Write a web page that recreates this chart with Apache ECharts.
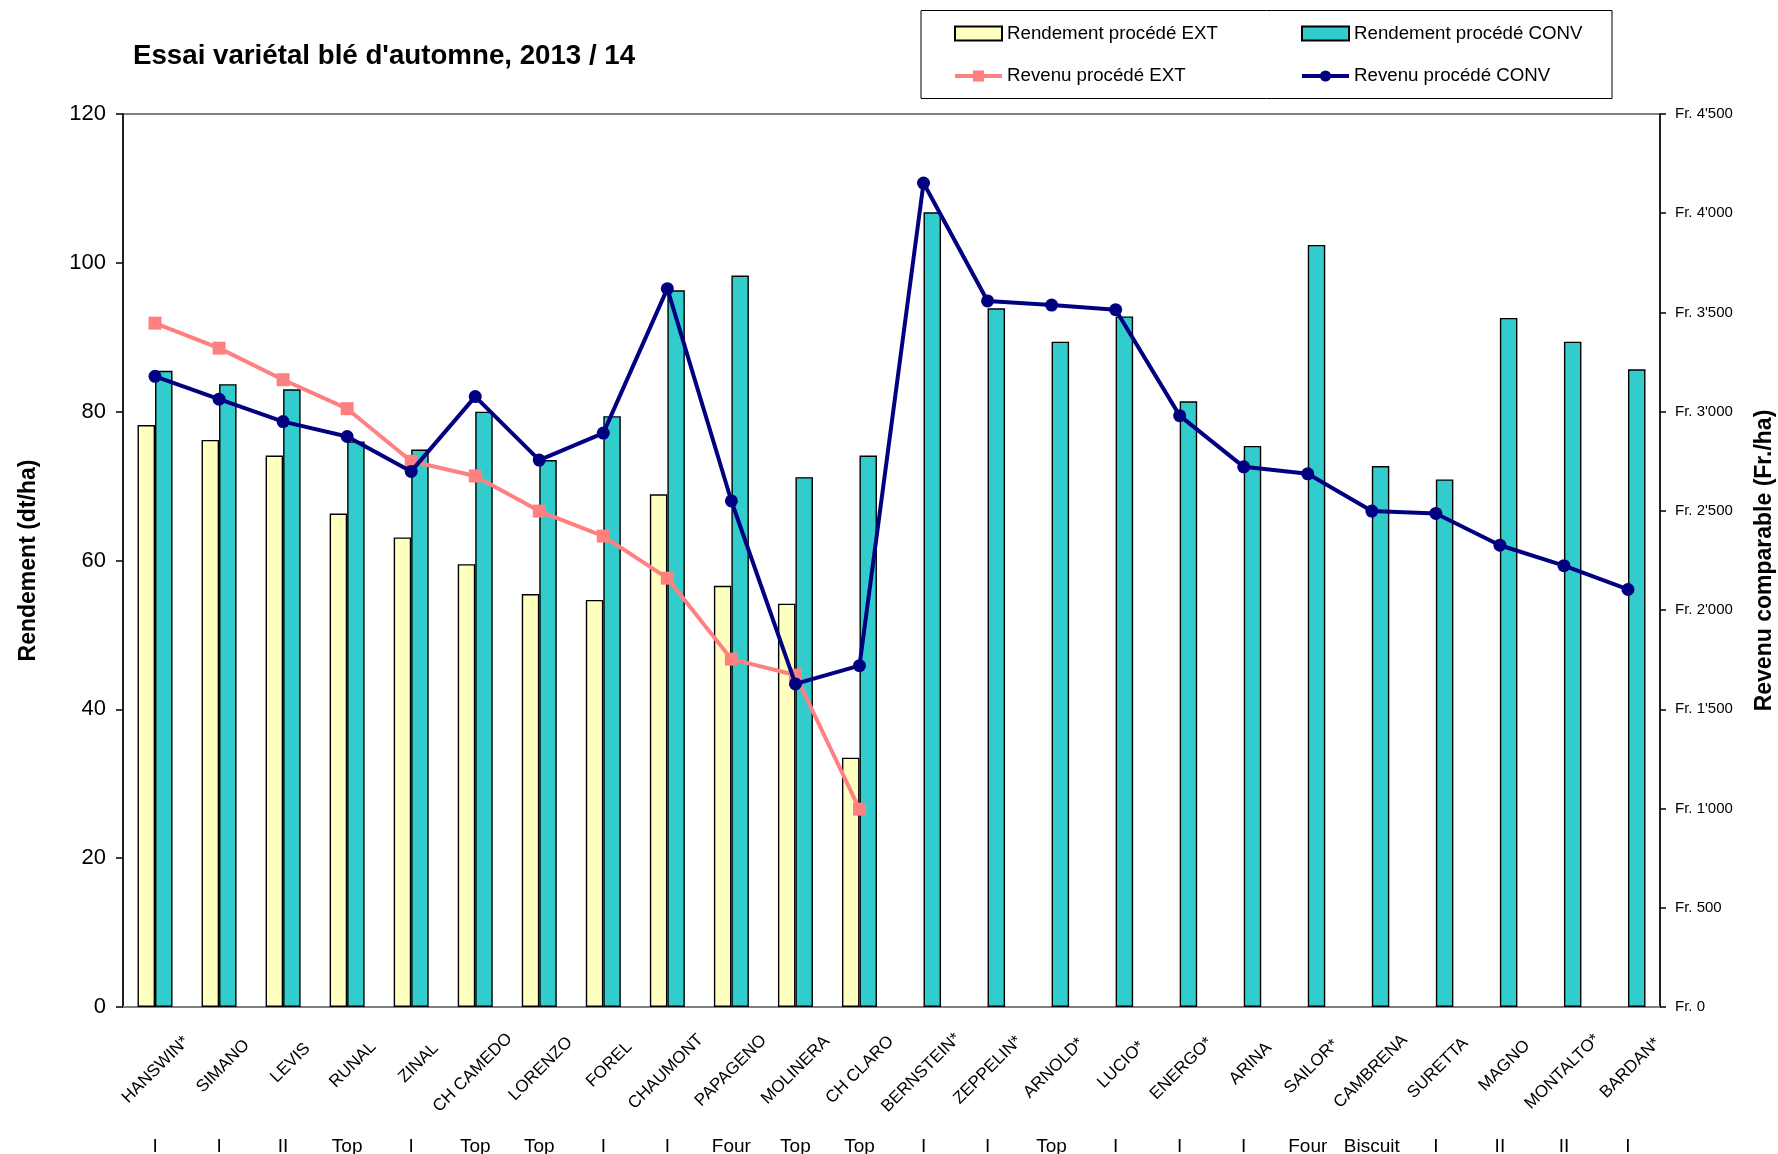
<!DOCTYPE html>
<html><head><meta charset="utf-8">
<script src="https://cdn.jsdelivr.net/npm/echarts@6/dist/echarts.min.js"></script>
<style>html,body{margin:0;padding:0;background:#fff}#c{width:1778px;height:1154px}</style>
</head><body><div id="c"></div>
<script>
const categories = ['HANSWIN*','SIMANO','LEVIS','RUNAL','ZINAL','CH CAMEDO','LORENZO','FOREL','CHAUMONT','PAPAGENO','MOLINERA','CH CLARO','BERNSTEIN*','ZEPPELIN*','ARNOLD*','LUCIO*','ENERGO*','ARINA','SAILOR*','CAMBRENA','SURETTA','MAGNO','MONTALTO*','BARDAN*'];
const qualityClasses = ['I','I','II','Top','I','Top','Top','I','I','Four','Top','Top','I','I','Top','I','I','I','Four','Biscuit','I','II','II','I'];
const yieldExt = [78.2,76.2,74.1,66.3,63.1,59.5,55.5,54.7,68.9,56.6,54.2,33.5,null,null,null,null,null,null,null,null,null,null,null,null];
const yieldConv = [85.5,83.7,83.0,76.0,74.9,80.0,73.5,79.4,96.3,98.3,71.2,74.1,106.8,93.9,89.4,92.8,81.4,75.4,102.4,72.7,70.9,92.6,89.4,85.7];
const revenueExt = [3446,3320,3161,3015,2750,2676,2499,2373,2161,1753,1673,997,null,null,null,null,null,null,null,null,null,null,null,null];
const revenueConv = [3178,3063,2950,2875,2699,3076,2756,2892,3620,2550,1628,1720,4152,3558,3537,3514,2980,2722,2687,2499,2487,2327,2224,2104];
const seriesNames = ['Rendement procédé EXT','Rendement procédé CONV','Revenu procédé EXT','Revenu procédé CONV'];

const FONT = "'Liberation Sans', Arial, sans-serif";
const CAT_FONT_SIZE = 17;

// rotated category labels: centre each label's bounding box on its category (Excel style)
const ctx = document.createElement('canvas').getContext('2d');
ctx.font = CAT_FONT_SIZE + "px 'Liberation Sans'";
const labelWidths = categories.map(s => ctx.measureText(s).width);
const Lmax = Math.max.apply(null, labelWidths);
const labelShift = -2.5 + 0.354 * Lmax;
const catLabelData = categories.map((s, i) => {
  const d = Lmax - labelWidths[i];
  return { value: s, textStyle: { padding: [0, d * 0.25, d * 0.5, 0] } };
});

function frFormat(v) {
  if (v >= 1000) return "Fr. " + Math.floor(v / 1000) + "'" + String(v % 1000).padStart(3, '0');
  return 'Fr. ' + v;
}

const legendCommon = {
  top: 24, orient: 'vertical', padding: 0, itemWidth: 47, itemHeight: 14, itemGap: 23.5,
  selectedMode: false,
  lineStyle: { width: 4 },
  textStyle: { fontSize: 18.7, color: '#000', fontFamily: FONT }
};

const chart = echarts.init(document.getElementById('c'));
chart.setOption({
  animation: false,
  backgroundColor: '#fff',
  title: {
    text: "Essai variétal blé d'automne, 2013 / 14",
    left: 133, top: 42, padding: 0,
    textStyle: { fontSize: 27.7, fontWeight: 'bold', color: '#000', fontFamily: FONT }
  },
  graphic: [{
    type: 'rect', z: 0,
    shape: { x: 921, y: 10.5, width: 691, height: 88 },
    style: { fill: '#fff', stroke: '#000', lineWidth: 1 }
  }],
  legend: [
    Object.assign({ left: 953, data: [{ name: seriesNames[0], icon: 'rect' }, { name: seriesNames[2] }] }, legendCommon),
    Object.assign({ left: 1300, data: [{ name: seriesNames[1], icon: 'rect' }, { name: seriesNames[3] }] }, legendCommon)
  ],
  grid: [
    { left: 123, right: 118, top: 114, bottom: 147, show: true, borderColor: '#808080', borderWidth: 2,
      containLabel: false, outerBoundsMode: 'none' },
    { left: 123 + labelShift, right: 118 - labelShift, top: 114, bottom: 147, show: false,
      containLabel: false, outerBoundsMode: 'none' }
  ],
  xAxis: [
    { gridIndex: 0, type: 'category', data: categories, position: 'bottom',
      axisLine: { show: true, lineStyle: { color: '#808080', width: 2 } },
      axisTick: { show: false }, axisLabel: { show: false }, splitLine: { show: false } },
    { gridIndex: 0, type: 'category', data: categories, position: 'bottom',
      axisLine: { show: false }, axisTick: { show: false }, splitLine: { show: false },
      axisLabel: { interval: 0, margin: 130, fontSize: 19, fontFamily: FONT, color: '#000',
        formatter: (v, i) => qualityClasses[i] } },
    { gridIndex: 1, type: 'category', data: catLabelData, position: 'bottom',
      axisLine: { show: false }, axisTick: { show: false }, splitLine: { show: false },
      axisLabel: { interval: 0, rotate: 45, margin: 29, fontSize: CAT_FONT_SIZE, fontFamily: FONT, color: '#000' } }
  ],
  yAxis: [
    { gridIndex: 0, type: 'value', position: 'left', min: 0, max: 120, interval: 20,
      axisLine: { show: true, lineStyle: { color: '#000', width: 1.5 } },
      axisTick: { show: true, length: 7, lineStyle: { color: '#000', width: 1.5 } },
      axisLabel: { fontSize: 22, color: '#000', margin: 17, fontFamily: FONT },
      splitLine: { show: false },
      name: 'Rendement (dt/ha)', nameLocation: 'middle', nameRotate: 90, nameGap: 83,
      nameTextStyle: { fontSize: 23, fontWeight: 'bold', color: '#000', fontFamily: FONT } },
    { gridIndex: 0, type: 'value', position: 'right', min: 0, max: 4500, interval: 500,
      axisLine: { show: true, lineStyle: { color: '#000', width: 1.5 } },
      axisTick: { show: true, length: 6, lineStyle: { color: '#000', width: 1.5 } },
      axisLabel: { fontSize: 15, color: '#000', margin: 15, fontFamily: FONT, formatter: frFormat },
      splitLine: { show: false },
      name: 'Revenu comparable (Fr./ha)', nameLocation: 'middle', nameRotate: 90, nameGap: 93,
      nameTextStyle: { fontSize: 23, fontWeight: 'bold', color: '#000', fontFamily: FONT } },
    { gridIndex: 1, type: 'value', show: false, min: 0, max: 120 }
  ],
  series: [
    { name: seriesNames[0], type: 'bar', xAxisIndex: 0, yAxisIndex: 0, data: yieldExt,
      barWidth: 17.5, barGap: '0%',
      itemStyle: { color: '#FFFFC0', borderColor: '#000', borderWidth: 1.4 } },
    { name: seriesNames[1], type: 'bar', xAxisIndex: 0, yAxisIndex: 0, data: yieldConv,
      barWidth: 17.5, barGap: '0%',
      itemStyle: { color: '#33CCCC', borderColor: '#000', borderWidth: 1.4 } },
    { name: seriesNames[2], type: 'line', xAxisIndex: 0, yAxisIndex: 1, data: revenueExt, z: 3,
      symbol: 'rect', symbolSize: 13, showAllSymbol: true,
      lineStyle: { color: '#FF8080', width: 4 }, itemStyle: { color: '#FF8080' } },
    { name: seriesNames[3], type: 'line', xAxisIndex: 0, yAxisIndex: 1, data: revenueConv, z: 4,
      symbol: 'circle', symbolSize: 13, showAllSymbol: true,
      lineStyle: { color: '#000080', width: 4 }, itemStyle: { color: '#000080' } }
  ]
});
</script>
</body></html>
